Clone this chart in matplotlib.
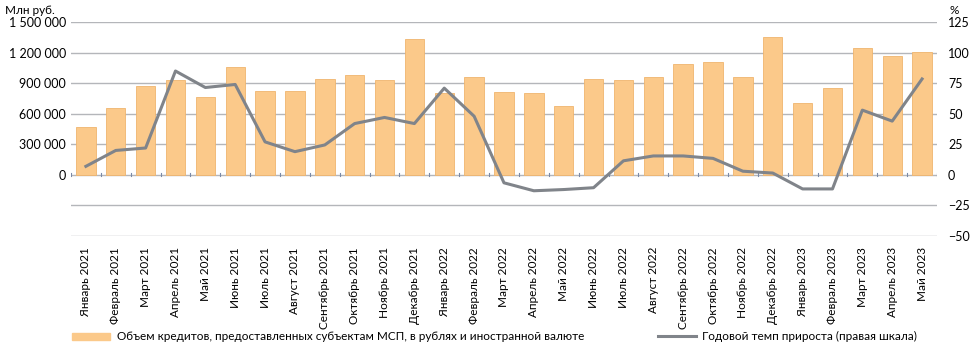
import numpy as np
import matplotlib.pyplot as plt
import matplotlib.ticker as mticker

plt.rcParams['font.family'] = ['Lato', 'DejaVu Sans']

months = ['Январь 2021', 'Февраль 2021', 'Март 2021', 'Апрель 2021', 'Май 2021',
          'Июнь 2021', 'Июль 2021', 'Август 2021', 'Сентябрь 2021', 'Октябрь 2021',
          'Ноябрь 2021', 'Декабрь 2021', 'Январь 2022', 'Февраль 2022', 'Март 2022',
          'Апрель 2022', 'Май 2022', 'Июнь 2022', 'Июль 2022', 'Август 2022',
          'Сентябрь 2022', 'Октябрь 2022', 'Ноябрь 2022', 'Декабрь 2022',
          'Январь 2023', 'Февраль 2023', 'Март 2023', 'Апрель 2023', 'Май 2023']

# объем кредитов, млн руб.
volume = [467000, 657000, 875000, 931000, 765000, 1056000, 827000, 827000, 941000,
          977000, 934000, 1336000, 801000, 964000, 814000, 807000, 676000, 944000,
          931000, 958000, 1088000, 1105000, 961000, 1356000, 706000, 850000,
          1245000, 1167000, 1206000]

# годовой темп прироста, %
growth = [7, 20, 22, 85, 71.5, 74, 27, 19, 24.5, 42, 47, 42, 71, 48, -6.5, -13,
          -12, -10.5, 11.5, 15.5, 15.5, 13.5, 3, 1.5, -11.5, -11.5, 53, 44, 78.5]

bar_color = '#fbc98a'
line_color = '#80848a'
grid_color = '#b4b6ba'

fig = plt.figure(figsize=(9.72, 3.46), dpi=100)
ax = fig.add_axes([0.073, 0.318, 0.891, 0.618])
ax2 = ax.twinx()

x = np.arange(len(months))

# сетка на левой оси (совпадает с делениями правой)
for v in np.arange(-600000, 1500001, 300000):
    ax.axhline(v, color=grid_color, linewidth=1.0, zorder=0)

ax.bar(x, volume, width=0.65, color=bar_color, edgecolor='#f0b56e', linewidth=0.6, zorder=2)
ax2.plot(x, growth, color=line_color, linewidth=2.2, zorder=3)

ax.set_xlim(-0.5, len(months) - 0.5)
ax.set_ylim(-600000, 1500000)
ax2.set_ylim(-50, 125)

ax.set_yticks(np.arange(0, 1500001, 300000))
ax.yaxis.set_major_formatter(mticker.FuncFormatter(lambda v, _: f'{int(v):,}'.replace(',', ' ')))
ax2.set_yticks(np.arange(-50, 126, 25))

# засечки на нулевой линии между категориями
for b in np.arange(-0.5, len(months), 1.0):
    ax.plot([b, b], [-12000, 22000], color='#7a8aa8', linewidth=0.8, zorder=1)

ax.set_xticks(x)
ax.set_xticklabels(months, rotation=90, fontsize=8.5)
ax.tick_params(axis='x', length=0, pad=8)
ax.tick_params(axis='y', length=0, labelsize=9)
ax2.tick_params(axis='y', length=0, labelsize=9, pad=8)
for a in (ax, ax2):
    for s in a.spines.values():
        s.set_visible(False)

fig.text(0.005, 0.985, 'Млн руб.', fontsize=8.5, va='top', ha='left')
fig.text(0.982, 0.985, '%', fontsize=8.5, va='top', ha='center')

# легенда
fig.patches.append(plt.Rectangle((0.074, 0.017), 0.039, 0.022, color=bar_color,
                                 transform=fig.transFigure, figure=fig))
fig.text(0.12, 0.028, 'Объем кредитов, предоставленных субъектам МСП, в рублях и иностранной валюте',
         fontsize=8.5, va='center')
fig.lines.append(plt.Line2D([0.677, 0.716], [0.028, 0.028], color=line_color, linewidth=2.2,
                            transform=fig.transFigure, figure=fig))
fig.text(0.722, 0.028, 'Годовой темп прироста (правая шкала)', fontsize=8.5, va='center')

fig.savefig('out.png', dpi=100)
